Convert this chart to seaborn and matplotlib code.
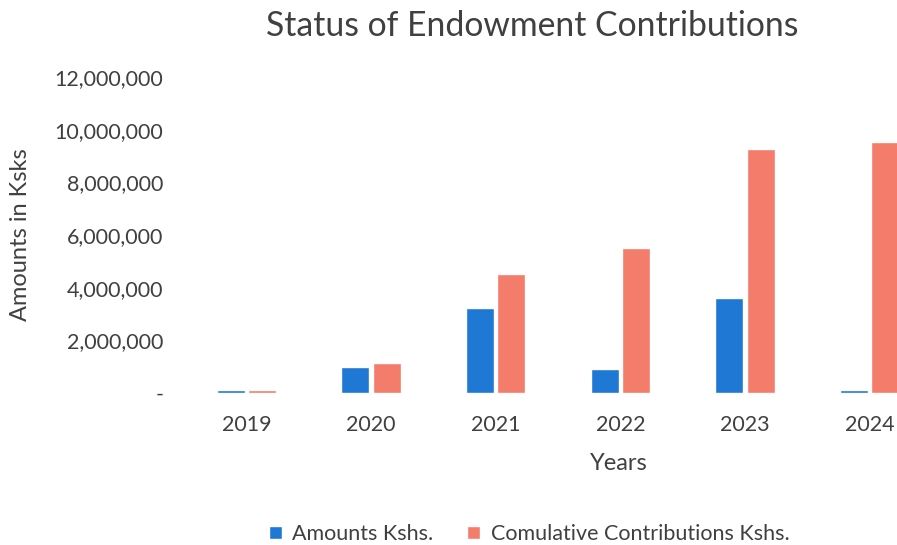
import matplotlib
matplotlib.use("Agg")
import matplotlib.pyplot as plt
import matplotlib.ticker as mticker
import seaborn as sns
import pandas as pd

years = ["2019", "2020", "2021", "2022", "2023", "2024"]
amounts = [110000, 1000000, 3240000, 900000, 3590000, 130000]
cumulative = [120000, 1150000, 4510000, 5520000, 9260000, 9540000]
series_names = ["Amounts Kshs.", "Comulative Contributions Kshs."]
yticks = [0, 2000000, 4000000, 6000000, 8000000, 10000000, 12000000]

df = pd.DataFrame({
    "Year": years * 2,
    "Value": amounts + cumulative,
    "Series": [series_names[0]] * len(years) + [series_names[1]] * len(years),
})

sns.set_theme(style="white")
plt.rcParams["font.family"] = ["Lato", "DejaVu Sans"]
text_color = "#404040"

W, H = 897, 545
fig = plt.figure(figsize=(W / 100, H / 100), dpi=100)
left, right, top, bottom = 184, 932, 77, 393
ax = fig.add_axes([left / W, 1 - bottom / H, (right - left) / W, (bottom - top) / H])

palette = {series_names[0]: "#1F78D3", series_names[1]: "#F47C6B"}
sns.barplot(data=df, x="Year", y="Value", hue="Series", palette=palette,
            width=0.505, gap=0.11, saturation=1, ax=ax, legend=True)

ax.set_ylim(0, 12000000)
ax.set_yticks(yticks)
ax.yaxis.set_major_formatter(mticker.FuncFormatter(lambda v, p: "-" if v == 0 else f"{int(v):,}"))
for s in ax.spines.values():
    s.set_visible(False)
ax.tick_params(axis="both", length=0, labelsize=15.5, colors=text_color)
ax.tick_params(axis="y", pad=15)
ax.tick_params(axis="x", pad=16)

ax.set_ylabel("Amounts in Ksks", fontsize=17, color=text_color)
ax.yaxis.set_label_coords((31 - left) / (right - left), 0.5)
ax.set_xlabel("Years", fontsize=17, color=text_color)
ax.xaxis.set_label_coords((619 - left) / (right - left), -(453 - bottom) / (bottom - top))

fig.text(532 / W, 1 - 26 / H, "Status of Endowment Contributions", ha="center", va="center",
         fontsize=24.3, color=text_color)

handles, labels = ax.get_legend_handles_labels()
ax.get_legend().remove()
fig.legend(handles, labels, loc="center", bbox_to_anchor=(529 / W, 1 - 534 / H), ncol=2,
           frameon=False, fontsize=15.5, handlelength=0.6, handleheight=0.6,
           columnspacing=1.55, handletextpad=0.5, labelcolor=text_color)

fig.savefig("out.png", dpi=100)
